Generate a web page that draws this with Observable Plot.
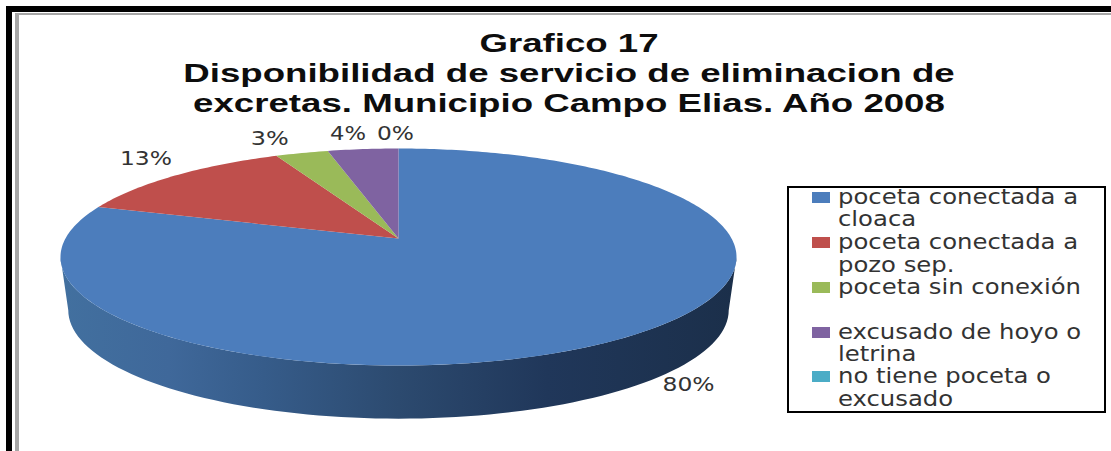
<!DOCTYPE html>
<html><head><meta charset="utf-8">
<script src="https://cdn.jsdelivr.net/npm/d3@7"></script>
<script src="https://cdn.jsdelivr.net/npm/@observablehq/plot@0.6"></script>
<style>
html,body{margin:0;padding:0;background:#fff;overflow:hidden}
#wrap{position:relative;width:1111px;height:451px;overflow:hidden}
#wrap svg{position:absolute;left:0;top:0;background:transparent}
.band{position:absolute;background:#000}
.gray{position:absolute;background:#a6a6a6}
#title{position:absolute;left:169px;top:28px;width:800px;text-align:center;font:bold 25px/30px "Liberation Sans";color:#0d0d0d;transform:scaleX(1.465);transform-origin:50% 0;white-space:nowrap}
#legend{position:absolute;left:787px;top:186px;width:319px;height:227px;border:2px solid #000;box-sizing:border-box}
.key{position:absolute;left:23px;width:18px;height:11px}
.lab{position:absolute;left:49px;font-family:"DejaVu Sans";font-size:22px;color:#333;white-space:pre;transform:scaleX(1.105);transform-origin:0 0}
</style></head><body>
<div id="wrap">
<div class="band" style="left:6px;top:6px;right:0;height:6px"></div>
<div class="band" style="left:6px;top:6px;bottom:0;width:6px"></div>
<div class="gray" style="left:15px;top:13px;right:0;height:2px"></div>
<div class="gray" style="left:15px;top:13px;bottom:0;width:4px"></div>
<div id="plot"></div>
<div id="title">Grafico 17<br>Disponibilidad de servicio de eliminacion de<br>excretas. Municipio Campo Elias. Año 2008</div>
<div id="legend"></div>
</div>
<script>
const categories = ["poceta conectada a\ncloaca","poceta conectada a\npozo sep.","poceta sin conexión","excusado de hoyo o\nletrina","no tiene poceta o\nexcusado"];
const values = [80,13,3,4,0];
const colors = ["#4c7dbc","#bf4f4c","#9aba59","#7f63a1","#4bacc6"];

// perspective foreshortening of the disc, as in the spreadsheet's 3-D pie
const persp = 0.837;
const warp = t => 2*Math.atan(persp*Math.tan(t/2));
const rim = share => {
  const t = share*2*Math.PI/100;
  const t2 = t > Math.PI ? t-2*Math.PI : t;
  const p = warp(t2);
  return [Math.sin(p), Math.cos(p)];
};
const apexY = 0.17, wallDrop = 0.49, wallScale = 0.977;

// slices, drawn clockwise from 12 o'clock
const slices = [];
let cum = 0;
values.forEach((v,i)=>{
  const pts = [{i,x:0,y:apexY}];
  const n = Math.max(2,Math.round(v*4));
  for(let k=0;k<=n;k++){
    const [x,y] = rim(cum+v*k/n);
    pts.push({i,x,y});
  }
  pts.push({i,x:0,y:apexY});
  if(v>0) slices.push(...pts);
  cum+=v;
});

// front wall of the disc
const wall = [];
for(let a=90;a<=270;a+=2){const r=a*Math.PI/180; wall.push({x:Math.sin(r),y:Math.cos(r)});}
for(let a=270;a>=90;a-=2){const r=a*Math.PI/180; wall.push({x:wallScale*Math.sin(r),y:Math.cos(r)-wallDrop});}

// data labels
const nudge = [[62,48],[-29,-17],[-32,-14],[-15,-15],[-3,-15]];
const labelWidth = [52,52,38,36,37];
cum = 0;
const labels = values.map((v,i)=>{
  const [x,y] = rim(cum+v/2); cum+=v;
  return {t:v+"%",x:x+nudge[i][0]/338,y:y-nudge[i][1]/108.5};
});

const gradient = () => d3.create("svg:defs").html(`<linearGradient id="wallG" gradientUnits="userSpaceOnUse" x1="60" x2="736" y1="0" y2="0">
<stop offset="0" stop-color="#42709f"/><stop offset="0.16" stop-color="#3f689a"/><stop offset="0.3" stop-color="#365c8a"/><stop offset="0.5" stop-color="#2c4a6f"/><stop offset="0.72" stop-color="#20375a"/><stop offset="1" stop-color="#1b2f4a"/></linearGradient>`).node();

const chart = Plot.plot({
  width:1111,height:451,margin:0,
  x:{domain:[-1,1],range:[60,736],axis:null},
  y:{domain:[-1,1],range:[365,148],axis:null},
  style:{background:"transparent"},
  marks:[
    gradient,
    Plot.line(wall,{x:"x",y:"y",fill:"url(#wallG)",stroke:"none",curve:"linear"}),
    Plot.line(slices,{x:"x",y:"y",z:"i",fill:d=>colors[d.i],stroke:"none",curve:"linear"}),
    Plot.text(labels,{x:"x",y:"y",text:"t",fontSize:19,fontFamily:"DejaVu Sans",fill:"#333"})
  ]
});
d3.select(chart).selectAll("text").each(function(d,i){
  this.setAttribute("textLength",labelWidth[i]);
  this.setAttribute("lengthAdjust","spacingAndGlyphs");
});
document.getElementById("plot").append(chart);

const legend = document.getElementById("legend");
const tops = [-2.3,43.15,88.15,133.15,177.15];
const leading = [22.7,22.5,22.5,22,22.7];
categories.forEach((c,i)=>{
  const k=document.createElement("div");k.className="key";
  k.style.top=(tops[i]+5.8)+"px";k.style.background=colors[i];legend.append(k);
  const l=document.createElement("div");l.className="lab";
  l.style.top=tops[i]+"px";l.style.lineHeight=leading[i]+"px";l.textContent=c;legend.append(l);
});
</script>
</body></html>
